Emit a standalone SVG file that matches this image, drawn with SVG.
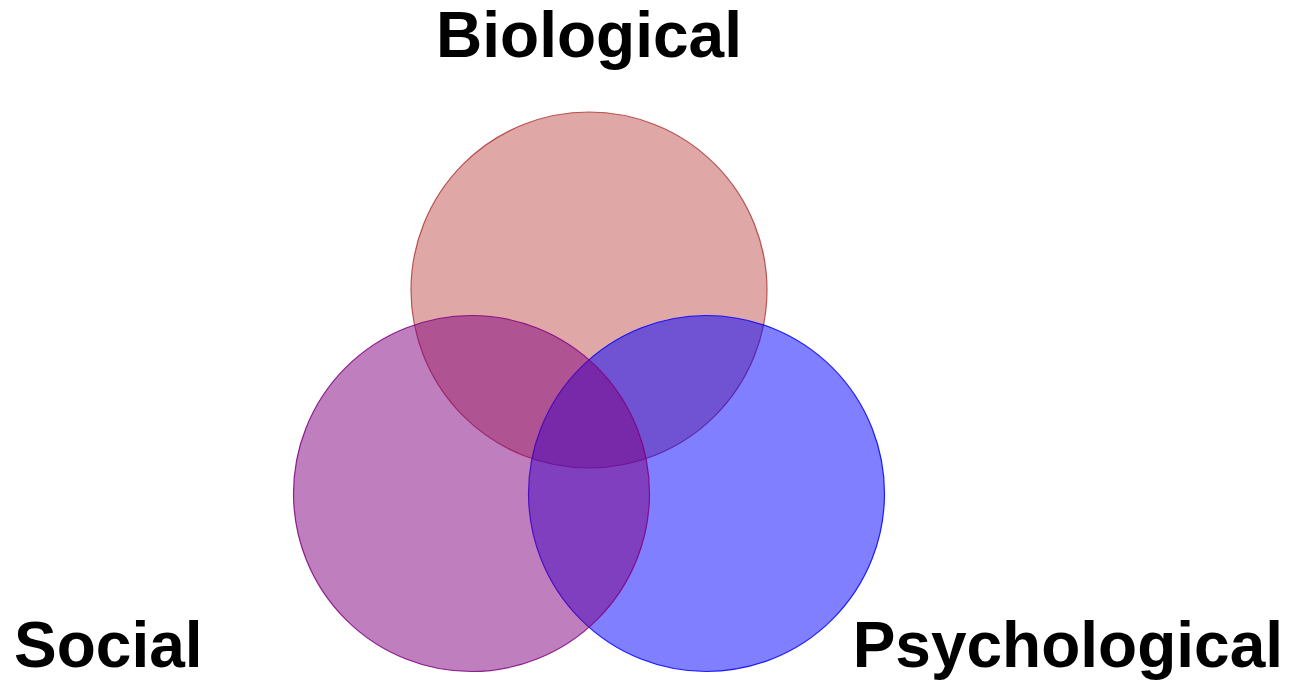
<svg xmlns="http://www.w3.org/2000/svg" width="1292" height="682" viewBox="0 0 1292 682">
<style>
.lbl{font-family:"Liberation Sans",Arial,sans-serif;font-weight:bold;font-size:64px;fill:#000}
.c{fill-opacity:0.5;stroke-opacity:0.85;stroke-width:1.2}
</style>
<rect width="1292" height="682" fill="#fff"/>
<g id="biological">
<circle class="c" cx="589" cy="290" r="178" fill="#c0504d" stroke="#b03a3a"/>
<text class="lbl" x="589" y="57" text-anchor="middle">Biological</text>
</g>
<g id="psychological">
<circle class="c" cx="706.5" cy="493.5" r="178" fill="#0000ff" stroke="#0000ff"/>
<text class="lbl" x="1283" y="667" text-anchor="end">Psychological</text>
</g>
<g id="social">
<circle class="c" cx="471.5" cy="493.5" r="178" fill="#800080" stroke="#800080"/>
<text class="lbl" x="14" y="667">Social</text>
</g>
<g id="connectors"/>
</svg>
